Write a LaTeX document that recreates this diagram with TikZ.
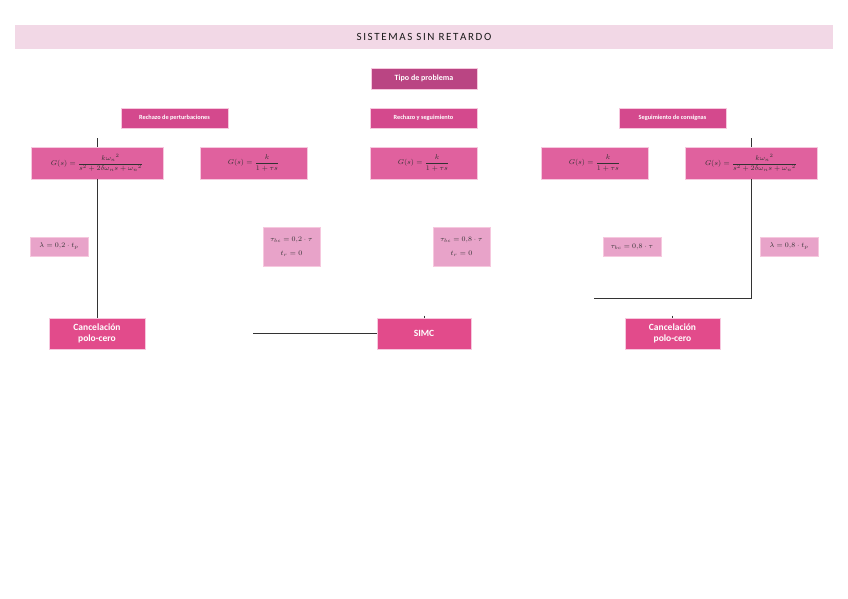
\documentclass[tikz,border=0pt]{standalone}
\usepackage{amsmath}
\usepackage{fontspec}
\setmainfont{Carlito}
\definecolor{titlebg}{HTML}{F2D8E6}
\definecolor{tipoc}{HTML}{BA4583}
\definecolor{headc}{HTML}{D4498D}
\definecolor{gc}{HTML}{E0619E}
\definecolor{botc}{HTML}{E24B8B}
\definecolor{parc}{HTML}{E8A3C9}
\definecolor{edgec}{HTML}{F6C8DE}
\definecolor{txtc}{HTML}{1A1A1A}
\tikzset{
  box/.style={rectangle, draw=edgec, line width=0.6pt, inner sep=0pt, align=center},
  tipobox/.style={box, fill=tipoc, text=white, font=\fontsize{8}{9}\selectfont\bfseries, minimum width=106pt, minimum height=21pt},
  headbox/.style={box, fill=headc, text=white, font=\fontsize{6.3}{7}\selectfont\bfseries, minimum width=107pt, minimum height=20pt},
  gbox/.style={box, fill=gc, text=black!80, font=\fontsize{7.5}{8.5}\selectfont, minimum height=32pt},
  parbox/.style={box, fill=parc, text=black!80, font=\fontsize{6.8}{7.5}\selectfont, minimum width=57pt},
  botbox/.style={box, fill=botc, text=white, font=\fontsize{9.5}{11.5}\selectfont\bfseries, minimum height=31pt},
  conn/.style={draw=black!80, line width=0.9pt}
}
\newcommand{\tk}{\kern1.6pt}
\begin{document}
\begin{tikzpicture}[x=1pt,y=-1pt]
\useasboundingbox (0,0) rectangle (848,599);
\node[rectangle, fill=titlebg, minimum width=818pt, minimum height=24pt, inner sep=0pt, text=txtc, font=\fontsize{11}{13}\selectfont] (title) at (424,37) {S\tk I\tk S\tk T\tk E\tk M\tk A\tk S\ \tk S\tk I\tk N\ \tk R\tk E\tk T\tk A\tk R\tk D\tk O};
\node[tipobox] (tipo) at (424,78.5) {Tipo de problema};
\node[headbox] (h1) at (174.5,118) {Rechazo de perturbaciones};
\node[headbox] (h2) at (423.5,118) {Rechazo y seguimiento};
\node[headbox] (h3) at (672.5,118) {Seguimiento de consignas};
\node[gbox, minimum width=132pt] (g1) at (97,163) {$G(s)=\dfrac{k{\omega_n}^2}{s^2+2\delta\omega_n s+{\omega_n}^2}$};
\node[gbox, minimum width=107pt] (g2) at (253.5,163) {$G(s)=\dfrac{k}{1+\tau s}$};
\node[gbox, minimum width=107pt] (g3) at (423.5,163) {$G(s)=\dfrac{k}{1+\tau s}$};
\node[gbox, minimum width=107pt] (g4) at (594.5,163) {$G(s)=\dfrac{k}{1+\tau s}$};
\node[gbox, minimum width=132pt] (g5) at (751,163) {$G(s)=\dfrac{k{\omega_n}^2}{s^2+2\delta\omega_n s+{\omega_n}^2}$};
\node[parbox, minimum width=58pt, minimum height=19pt] (p1) at (59,246.5) {$\lambda=0{,}2\cdot t_p$};
\node[parbox, minimum height=39pt] (p2) at (291.5,246.5) {$\tau_{bc}=0{,}2\cdot\tau$\\[6pt]$t_r=0$};
\node[parbox, minimum height=39pt] (p3) at (461.5,246.5) {$\tau_{bc}=0{,}8\cdot\tau$\\[6pt]$t_r=0$};
\node[parbox, minimum width=58pt, minimum height=19pt] (p4) at (632,246.5) {$\tau_{bc}=0{,}8\cdot\tau$};
\node[parbox, minimum width=58pt, minimum height=19pt] (p5) at (789,246.5) {$\lambda=0{,}8\cdot t_p$};
\node[botbox, minimum width=96pt] (c1) at (97,333.5) {Cancelación\\polo-cero};
\node[botbox, minimum width=94pt] (simc) at (424,333.5) {SIMC};
\node[botbox, minimum width=95pt] (c2) at (672.5,333.5) {Cancelación\\polo-cero};
\coordinate (a1) at (97,138);
\coordinate (a5) at (751,138);
\coordinate (b5) at (594,298);
\coordinate (bs) at (253,333.5);
\coordinate (ds) at (424,315.5);
\coordinate (dc) at (672.5,315.5);
\draw[conn] (a1) -- (g1.north);
\draw[conn] (g1.south) -- (c1.north);
\draw[conn] (a5) -- (g5.north);
\draw[conn] (g5.south) |- (b5);
\draw[conn] (bs) -- (simc.west);
\draw[conn] (ds) -- (simc.north);
\draw[conn] (dc) -- (c2.north);
\end{tikzpicture}
\end{document}
